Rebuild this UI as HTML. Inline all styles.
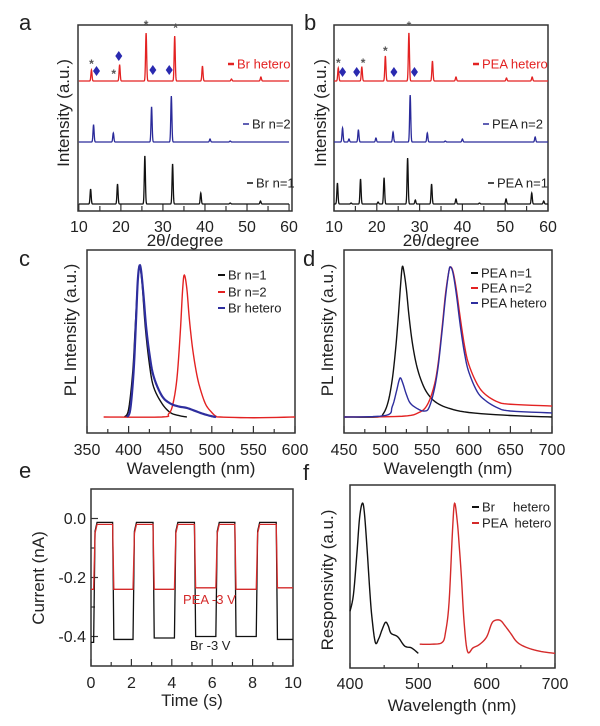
<!DOCTYPE html>
<html><head><meta charset="utf-8"><style>
html,body{margin:0;padding:0;background:#fff;}
svg{display:block;font-family:"Liberation Sans",Arial,sans-serif;}
</style></head><body>
<svg id="fig" width="600" height="726" viewBox="0 0 600 726" xmlns="http://www.w3.org/2000/svg"></svg>
<script>
// ---------- DATA ----------
// XRD peaks: [2theta, height]
const xrdBrHetero = [[13,11],[19.7,16],[26,48],[32.8,45],[39.4,15],[46.3,2],[53.3,4]];
const xrdBrN2 = [[13.5,17],[18.2,9],[27.3,35],[32,46],[41.2,3],[46,1]];
const xrdBrN1 = [[12.8,15],[19.2,20],[25.7,48],[32.3,40],[39,11],[46,1],[53.2,3]];
const xrdPeaHetero = [[11,13],[16.5,14],[22,25],[27.5,48],[33,20],[38.5,4],[50.3,3],[56.3,4]];
const xrdPeaN2 = [[12,14],[13.5,3],[15.7,12],[19.8,4],[23.8,10],[27.8,47],[31.8,9],[36,1],[40,3],[57,5]];
const xrdPeaN1 = [[10.8,21],[14,1],[16.2,25],[20.3,2],[21.7,26],[27.2,46],[29,4],[32.8,20],[38.5,5],[44,1],[50.2,5],[56.2,11],[59,3]];
const xrdOffsets = [7, 69, 130]; // n=1, n=2, hetero (a.u.)
const starsA = [[13,18],[18.3,8],[26,57],[33,54]];
const diamondsA = [[14.2,10],[19.5,25],[27.6,11],[31.5,11]];
const starsB = [[11,19],[16.8,19],[22,31],[27.5,56]];
const diamondsB = [[12,9],[15.3,9],[24,9],[28.8,9]];
const xrdTicks = [10,20,30,40,50,60];

// PL spectra [nm, normalized]
const plBrN1 = [[395,0],[400,0.05],[405,0.3],[408,0.6],[411,0.9],[413,1],[416,0.9],[420,0.6],[425,0.35],[430,0.2],[440,0.09],[450,0.03],[460,0.01],[470,0]];
const plBrN2 = [[370,0],[440,0],[448,0.02],[453,0.08],[458,0.25],[462,0.55],[465,0.85],[467,0.94],[470,0.85],[473,0.65],[477,0.45],[482,0.28],[487,0.17],[493,0.08],[500,0.03],[505,0.005],[510,0],[550,-0.005],[600,0]];
const plBrHetero = [[398,0],[402,0.05],[406,0.3],[409,0.65],[411,0.9],[413,1],[415,0.97],[418,0.8],[421,0.6],[425,0.42],[430,0.27],[440,0.14],[450,0.09],[460,0.07],[470,0.06],[480,0.04],[490,0.02],[500,0.005],[505,0]];
const plPeaN1 = [[450,0],[490,0],[497,0.02],[503,0.1],[508,0.25],[512,0.45],[515,0.65],[518,0.88],[520,1],[522,0.97],[525,0.85],[528,0.68],[532,0.5],[537,0.35],[543,0.24],[550,0.16],[560,0.1],[575,0.06],[600,0.03],[650,0.01],[700,0]];
const plPeaN2 = [[450,0],[520,0.005],[540,0.03],[550,0.08],[558,0.2],[563,0.35],[568,0.6],[572,0.82],[576,0.97],[578,1],[581,0.97],[585,0.85],[590,0.65],[595,0.47],[600,0.35],[610,0.22],[620,0.15],[635,0.1],[650,0.085],[700,0.073]];
const plPeaHetero = [[450,0],[500,0.01],[508,0.07],[513,0.17],[516,0.24],[518,0.26],[521,0.22],[525,0.15],[530,0.09],[540,0.05],[547,0.04],[552,0.06],[558,0.17],[563,0.33],[568,0.58],[572,0.8],[576,0.97],[578,1],[581,0.96],[585,0.82],[590,0.6],[595,0.42],[600,0.3],[610,0.17],[620,0.11],[635,0.06],[650,0.04],[700,0.027]];

// Photocurrent switching
const riseTimes = [0.15,2.1,4.15,6.2,8.2];
const fallTimes = [1.1,3.1,5.15,7.15,9.2];
const onLevelPea = -0.02;
const onLevelBr = -0.013;
const offLevelsPea = [-0.24,-0.24,-0.24,-0.235,-0.24,-0.235];
const offLevelsBr = [-0.42,-0.41,-0.405,-0.40,-0.40,-0.41];
const eYTicks = [0.0,-0.2,-0.4];
const eXTicks = [0,2,4,6,8,10];

// Responsivity
const respBr = [[400,0.31],[405,0.4],[410,0.62],[414,0.82],[418,0.9],[421,0.85],[425,0.65],[429,0.42],[432,0.28],[437,0.14],[442,0.16],[447,0.21],[452,0.25],[456,0.23],[460,0.19],[470,0.17],[480,0.12],[490,0.11],[500,0.08]];
const respPea = [[502,0.13],[520,0.13],[535,0.14],[540,0.2],[545,0.36],[550,0.75],[553,0.9],[557,0.8],[560,0.66],[563,0.5],[567,0.25],[572,0.09],[580,0.11],[590,0.13],[600,0.17],[607,0.24],[612,0.26],[620,0.26],[627,0.23],[635,0.19],[645,0.14],[660,0.11],[680,0.09],[700,0.08]];

// ---------- HELPERS ----------
const NS = "http://www.w3.org/2000/svg";
const svg = document.getElementById('fig');
function mk(tag, attrs, parent){ const e=document.createElementNS(NS,tag); for(const k in attrs) e.setAttribute(k,attrs[k]); (parent||svg).appendChild(e); return e; }
function lin(d0,d1,r0,r1){ return v => r0 + (v-d0)*(r1-r0)/(d1-d0); }
function txt(x,y,s,size,opts){ const t=mk('text',Object.assign({x:x,y:y,'font-size':size,fill:'#222'},opts||{})); t.textContent=s; return t; }
function frame(x0,y0,x1,y1,name){ const r=mk('rect',{x:x0,y:y0,width:x1-x0,height:y1-y0,fill:'none',stroke:'#333','stroke-width':1.5});   return r; }
function pathFrom(pts,sx,sy){ return pts.map((p,i)=>(i?'L':'M')+sx(p[0]).toFixed(2)+','+sy(p[1]).toFixed(2)).join(''); }
function smooth(pts){ // monotone-ish resample via Catmull-Rom
  const out=[]; for(let i=0;i<pts.length-1;i++){ const p0=pts[Math.max(0,i-1)],p1=pts[i],p2=pts[i+1],p3=pts[Math.min(pts.length-1,i+2)];
    for(let k=0;k<6;k++){ const t=k/6,t2=t*t,t3=t2*t;
      const x=0.5*((2*p1[0])+(-p0[0]+p2[0])*t+(2*p0[0]-5*p1[0]+4*p2[0]-p3[0])*t2+(-p0[0]+3*p1[0]-3*p2[0]+p3[0])*t3);
      const y=0.5*((2*p1[1])+(-p0[1]+p2[1])*t+(2*p0[1]-5*p1[1]+4*p2[1]-p3[1])*t2+(-p0[1]+3*p1[1]-3*p2[1]+p3[1])*t3);
      out.push([x,y]); } } out.push(pts[pts.length-1]); return out; }
function xrdLine(peaks,off){ const pts=[]; for(let x=10;x<=60.001;x+=0.04){ let v=0; for(const p of peaks){ const d=(x-p[0])/0.13; v+=p[1]*Math.exp(-d*d/2);} pts.push([x,v+off]); } return pts; }

// ---------- PANEL a / b ----------
function xrdPanel(cfg){
  const sx=lin(cfg.xd[0],cfg.xd[1],cfg.x0,cfg.x1), sy=lin(0,186,211,25);
  const g=mk('g',{});  
  const fr=frame(cfg.x0,25,cfg.x1,211,'plot-frame'); g.appendChild(fr);
  for(let v=10;v<=60;v+=5){ const tk=mk('line',{x1:sx(v),x2:sx(v),y1:211,y2:(v%10?206:204),stroke:'#333','stroke-width':1.2},g);
      }
  const cols=['#111','#2a2a9a','#e32222'];
  cfg.series.forEach((s,i)=>{ const p=mk('path',{d:pathFrom(xrdLine(s.peaks,xrdOffsets[i]),sx,sy),fill:'none',stroke:cols[i],'stroke-width':1.3},g);
     
    const ly=[183,124,64][i];
    const dl=mk('line',{x1:s.lx-9,x2:s.lx-3,y1:ly,y2:ly,stroke:cols[i],'stroke-width':i==2?2.5:1.5},g);
     
    const t=txt(s.lx,ly+4.5,s.label,13,{fill:i==2?'#e32222':'#222'}); g.appendChild(t);
      });
  cfg.stars.forEach(st=>{ const t=txt(sx(st[0]),sy(xrdOffsets[2]+st[1])+5,'*',12,{fill:'#555','text-anchor':'middle','font-weight':'bold'}); g.appendChild(t);
      });
  cfg.diamonds.forEach(dm=>{ const cx=sx(dm[0]),cy=sy(xrdOffsets[2]+dm[1]);
    const p=mk('polygon',{points:`${cx},${cy-5} ${cx+3.5},${cy} ${cx},${cy+5} ${cx-3.5},${cy}`,fill:'#2a2ab0'},g);
      });
  xrdTicks.forEach(v=>{ const t=txt(sx(v),232,String(v),16,{'text-anchor':'middle'}); g.appendChild(t);
      });
  const xt=txt((cfg.x0+cfg.x1)/2,246,'2θ/degree',17,{'text-anchor':'middle'}); g.appendChild(xt);
   
  const yt=txt(0,0,'Intensity (a.u.)',17,{'text-anchor':'middle',transform:`translate(${cfg.ylx},113) rotate(-90)`}); g.appendChild(yt);
   
  const pl=txt(cfg.letx,30,cfg.letter,22,{}); g.appendChild(pl);
   
}
xrdPanel({name:'panel-a-xrd-br',x0:78,x1:292,xd:[9.8,60.7],ylx:69,letter:'a',letx:19,stars:starsA,diamonds:diamondsA,
  series:[{key:'br-n1',peaks:xrdBrN1,label:'Br n=1',lx:256},{key:'br-n2',peaks:xrdBrN2,label:'Br n=2',lx:252},{key:'br-hetero',peaks:xrdBrHetero,label:'Br hetero',lx:237}]});
xrdPanel({name:'panel-b-xrd-pea',x0:334,x1:548,xd:[10,60],ylx:326,letter:'b',letx:304,stars:starsB,diamonds:diamondsB,
  series:[{key:'pea-n1',peaks:xrdPeaN1,label:'PEA n=1',lx:497},{key:'pea-n2',peaks:xrdPeaN2,label:'PEA n=2',lx:492},{key:'pea-hetero',peaks:xrdPeaHetero,label:'PEA hetero',lx:482}]});

// ---------- PANEL c / d ----------
function plPanel(cfg){
  const sx=lin(cfg.xd[0],cfg.xd[1],cfg.x0,cfg.x1), sy=lin(0,1,417,cfg.topY);
  const g=mk('g',{});  
  g.appendChild(frame(cfg.x0,250,cfg.x1,433,'plot-frame'));
  for(let v=cfg.xd[0];v<=cfg.xd[1];v+=25){ const tk=mk('line',{x1:sx(v),x2:sx(v),y1:433,y2:((v-cfg.xd[0])%50?429:426),stroke:'#333','stroke-width':1.2},g);
      }
  const clip='clip-'+cfg.letter; const cp=mk('clipPath',{id:clip},g); mk('rect',{x:cfg.x0,y:250,width:cfg.x1-cfg.x0,height:183},cp);
  cfg.series.forEach((s,i)=>{ const p=mk('path',{d:pathFrom(smooth(s.data),sx,sy),fill:'none',stroke:s.color,'stroke-width':s.w||1.4,'clip-path':`url(#${clip})`},g);
     
    const ly=cfg.legY[i];
    const dl=mk('line',{x1:cfg.legX-10,x2:cfg.legX-3,y1:ly,y2:ly,stroke:s.color,'stroke-width':2},g);
     
    const t=txt(cfg.legX,ly+4.5,s.label,13,{}); g.appendChild(t);
      });
  for(let v=cfg.xd[0];v<=cfg.xd[1];v+=50){ const t=txt(sx(v),455,String(v),16,{'text-anchor':'middle'}); g.appendChild(t);
      }
  const xt=txt((cfg.x0+cfg.x1)/2,474,'Wavelength (nm)',17,{'text-anchor':'middle'}); g.appendChild(xt);
   
  const yt=txt(0,0,'PL Intensity (a.u.)',17,{'text-anchor':'middle',transform:`translate(${cfg.ylx},330) rotate(-90)`}); g.appendChild(yt);
   
  const pl=txt(cfg.letx,266,cfg.letter,22,{}); g.appendChild(pl);
   
}
plPanel({name:'panel-c-pl-br',letter:'c',letx:19,x0:87,x1:295,xd:[350,600],topY:266,ylx:76,legX:228,legY:[275,292,308],
  series:[{key:'br-n1',data:plBrN1,color:'#111',label:'Br n=1'},{key:'br-n2',data:plBrN2,color:'#e32222',label:'Br n=2'},{key:'br-hetero',data:plBrHetero,color:'#2e2e9e',label:'Br hetero',w:2.2}]});
plPanel({name:'panel-d-pl-pea',letter:'d',letx:303,x0:344,x1:552,xd:[450,700],topY:267,ylx:333,legX:481,legY:[273,288,303],
  series:[{key:'pea-n1',data:plPeaN1,color:'#111',label:'PEA n=1'},{key:'pea-n2',data:plPeaN2,color:'#e32222',label:'PEA n=2'},{key:'pea-hetero',data:plPeaHetero,color:'#2e2e9e',label:'PEA hetero'}]});

// ---------- PANEL e ----------
(function(){
  const x0=91,x1=293,y0=489,y1=666; const sx=lin(0,10,x0,x1), sy=lin(-0.5,0.1,y1,y0);
  const g=mk('g',{});  
  g.appendChild(frame(x0,y0,x1,y1,'plot-frame'));
  for(let v=0;v<=10;v+=1){ const tk=mk('line',{x1:sx(v),x2:sx(v),y1:y1,y2:y1-(v%2?4:7),stroke:'#333','stroke-width':1.2},g);
      }
  for(let v=-0.4;v<=0.05;v+=0.1){ const maj=Math.abs(Math.round(v*10))%2==0; const tk=mk('line',{x1:x0,x2:x0+(maj?7:4),y1:sy(v),y2:sy(v),stroke:'#333','stroke-width':1.2},g);
      }
  function steps(onL,offs){ const pts=[[0,offs[0]]];
    riseTimes.forEach((r,i)=>{ pts.push([r-0.02,offs[i]]); pts.push([r+0.05,onL-0.03]); pts.push([r+0.15,onL]);
      pts.push([fallTimes[i]-0.03,onL]); pts.push([fallTimes[i]+0.03,offs[i+1]]); });
    pts.push([10,offs[offs.length-1]]); return pts; }
  [['br',onLevelBr,offLevelsBr,'#111'],['pea',onLevelPea,offLevelsPea,'#d42a2a']].forEach(s=>{
    const p=mk('path',{d:pathFrom(steps(s[1],s[2]),sx,sy),fill:'none',stroke:s[3],'stroke-width':1.3},g);
      });
  eXTicks.forEach(v=>{ const t=txt(sx(v),688,String(v),16,{'text-anchor':'middle'}); g.appendChild(t);
      });
  eYTicks.forEach(v=>{ const t=txt(86,sy(v)+5.5,v.toFixed(1),16,{'text-anchor':'end'}); g.appendChild(t);
      });
  const a1=txt(183,604,'PEA -3 V',13,{fill:'#d42a2a'}); g.appendChild(a1);  
  const a2=txt(190,650,'Br -3 V',13,{}); g.appendChild(a2);  
  const xt=txt(192,706,'Time (s)',17,{'text-anchor':'middle'}); g.appendChild(xt);  
  const yt=txt(0,0,'Current (nA)',17,{'text-anchor':'middle',transform:'translate(44,578) rotate(-90)'}); g.appendChild(yt);
   
  const pl=txt(19,478,'e',22,{}); g.appendChild(pl);  
})();

// ---------- PANEL f ----------
(function(){
  const x0=350,x1=555,y0=485,y1=668; const sx=lin(400,700,x0,x1), sy=lin(0,1,y1,y0);
  const g=mk('g',{});  
  g.appendChild(frame(x0,y0,x1,y1,'plot-frame'));
  for(let v=400;v<=700;v+=50){ const tk=mk('line',{x1:sx(v),x2:sx(v),y1:y1,y2:y1-(v%100?3:5),stroke:'#333','stroke-width':1.2},g);
      }
  [['br',respBr,'#111','Br     hetero',507],['pea',respPea,'#d42a2a','PEA  hetero',523]].forEach(s=>{
    const p=mk('path',{d:pathFrom(smooth(s[1]),sx,sy),fill:'none',stroke:s[2],'stroke-width':1.4},g);
     
    const dl=mk('line',{x1:472,x2:479,y1:s[4],y2:s[4],stroke:s[2],'stroke-width':2},g);
     
    const t=txt(482,s[4]+4.5,s[3],13,{'xml:space':'preserve'}); t.setAttribute('style','white-space:pre'); g.appendChild(t);
      });
  for(let v=400;v<=700;v+=100){ const t=txt(sx(v),689,String(v),16,{'text-anchor':'middle'}); g.appendChild(t);
      }
  const xt=txt(452,711,'Wavelength (nm)',17,{'text-anchor':'middle'}); g.appendChild(xt);  
  const yt=txt(0,0,'Responsivity (a.u.)',17,{'text-anchor':'middle',transform:'translate(333,580) rotate(-90)'}); g.appendChild(yt);
   
  const pl=txt(303,480,'f',22,{}); g.appendChild(pl);  
})();
</script>
</body></html>
